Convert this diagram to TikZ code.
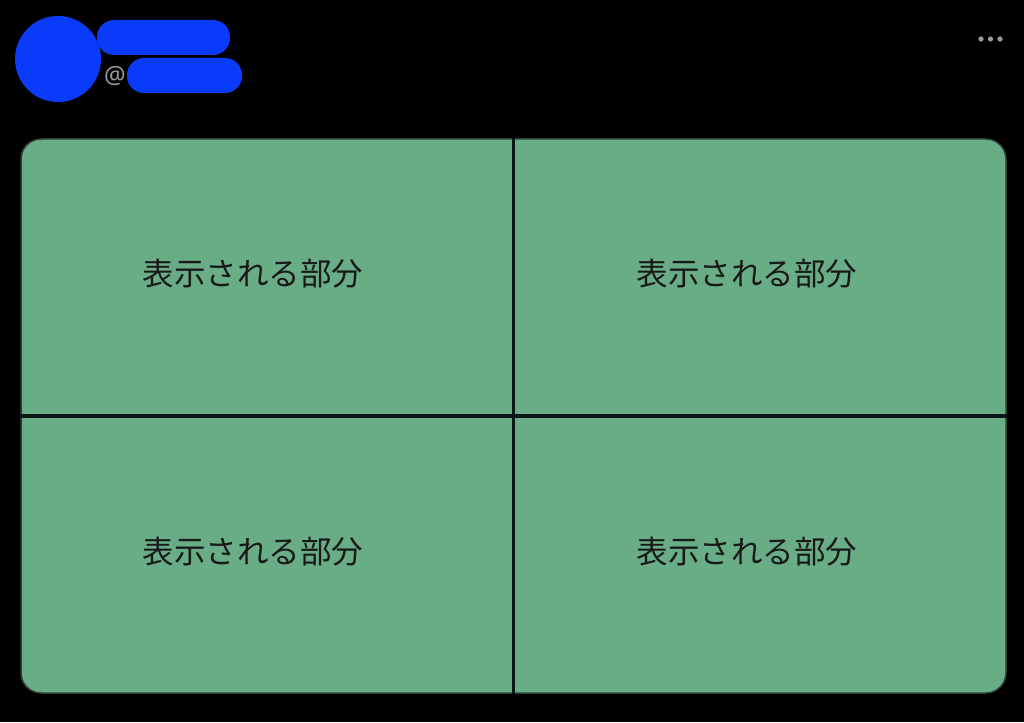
\documentclass[tikz,border=0pt]{standalone}
\usepackage{fontspec}
\newfontfamily\cjk{Noto Sans CJK JP}
\setmainfont{Noto Sans}
\definecolor{cardgreen}{HTML}{68AD86}
\definecolor{blot}{HTML}{0A3BFA}
\definecolor{divider}{HTML}{0D1818}
\definecolor{rim}{HTML}{2E3D35}
\definecolor{handle}{HTML}{9A9A9A}
\tikzset{
    frame/.style={draw=rim, line width=1.5pt, fill=cardgreen, rounded corners=20pt,
        minimum width=985pt, minimum height=554pt, inner sep=0pt},
    cell/.style={text=black!90, font=\cjk\fontsize{31.5}{32}\selectfont},
    split/.style={draw=divider, line width=3.2pt},
    blotbar/.style={fill=blot, rounded corners=17pt}
}
\begin{document}
\begin{tikzpicture}[x=1pt, y=-1pt]

    % Background and page size
    \fill[black] (0,0) rectangle (1024,722);
    \useasboundingbox (0,0) rectangle (1024,722);

    % Header: avatar, hidden name, handle, menu dots
    \fill[blotbar] (97,20) rectangle (230,55);
    \fill[blotbar] (127,58) rectangle (242,93);
    \fill[blot] (58,59) circle (43);
    \node[text=handle, font=\fontsize{24}{25}\selectfont, inner sep=0pt] (at) at (115,76) {@};
    \foreach \x in {981,990.5,1000}
        \fill[handle] (\x,39) circle (2.6);

    % The card split in four
    \node[frame] (card) at (513.5,416) {};
    \draw[split] (card.north) -- (card.south);
    \draw[split] (card.west) -- (card.east);

    \node[cell] (tl) at (253,274) {表示される部分};
    \node[cell] (tr) at (747,274) {表示される部分};
    \node[cell] (bl) at (253,552) {表示される部分};
    \node[cell] (br) at (747,552) {表示される部分};

\end{tikzpicture}
\end{document}
